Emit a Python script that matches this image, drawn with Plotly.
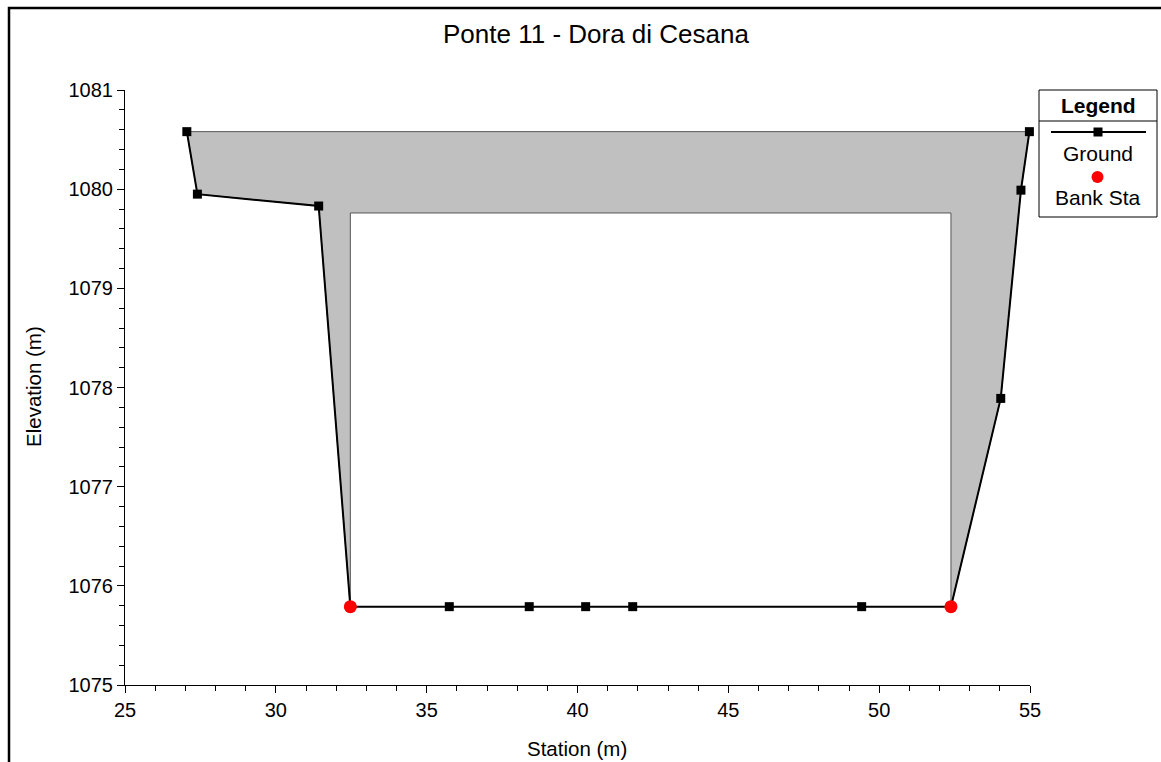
import plotly.graph_objects as go

# ---- data ----
ground_sta = [27.05, 27.40, 31.42, 32.47, 35.75, 38.40, 40.27, 41.83, 49.42, 52.38, 54.03, 54.70, 54.98]
ground_elev = [1080.58, 1079.95, 1079.83, 1075.79, 1075.79, 1075.79, 1075.79, 1075.79, 1075.79, 1075.79, 1077.89, 1079.99, 1080.58]
bank_sta = [32.47, 52.38]
bank_elev = [1075.79, 1075.79]
deck_high_chord = 1080.58
deck_low_chord = 1079.76
title = "Ponte 11 - Dora di Cesana"
x_title = "Station (m)"
y_title = "Elevation (m)"

FONT = "Liberation Sans, Arial, sans-serif"

# bridge deck polygon: top chord, down the left ground, around the opening, up the right ground
left_idx = [i for i, s in enumerate(ground_sta) if s <= bank_sta[0]]
right_idx = [i for i, s in enumerate(ground_sta) if s >= bank_sta[1]]
poly_x = [ground_sta[i] for i in left_idx]
poly_y = [ground_elev[i] for i in left_idx]
poly_x += [bank_sta[0], bank_sta[1]]
poly_y += [deck_low_chord, deck_low_chord]
poly_x += [ground_sta[i] for i in right_idx]
poly_y += [ground_elev[i] for i in right_idx]
poly_x += [ground_sta[left_idx[0]]]
poly_y += [deck_high_chord]

fig = go.Figure()
fig.add_trace(go.Scatter(
    x=poly_x, y=poly_y, mode="lines", fill="toself",
    fillcolor="#c0c0c0", line=dict(color="#555555", width=1),
    hoverinfo="skip", showlegend=False))
fig.add_trace(go.Scatter(
    x=ground_sta, y=ground_elev, mode="lines+markers", name="Ground",
    line=dict(color="black", width=2), cliponaxis=False,
    marker=dict(symbol="square", size=9, color="black"), showlegend=False))
fig.add_trace(go.Scatter(
    x=bank_sta, y=bank_elev, mode="markers", name="Bank Sta", cliponaxis=False,
    marker=dict(symbol="circle", size=13, color="#ff0000"), showlegend=False))

W, H = 1161, 762
L, R, T, B = 125, 131, 90, 77


def fx(p):
    return (p - L) / (W - L - R)


def fy(p):
    return (H - B - p) / (H - T - B)


shapes = [
    # outer frame
    dict(type="rect", xref="paper", yref="paper",
         x0=fx(9), x1=fx(1200), y0=fy(800), y1=fy(8),
         line=dict(color="black", width=2.5), fillcolor="rgba(0,0,0,0)"),
    # legend box
    dict(type="rect", xref="paper", yref="paper",
         x0=fx(1039), x1=fx(1157), y0=fy(217), y1=fy(90),
         line=dict(color="black", width=1), fillcolor="white"),
    dict(type="line", xref="paper", yref="paper",
         x0=fx(1039), x1=fx(1157), y0=fy(121), y1=fy(121),
         line=dict(color="black", width=1)),
    dict(type="line", xref="paper", yref="paper",
         x0=fx(1051), x1=fx(1146), y0=fy(132), y1=fy(132),
         line=dict(color="black", width=2)),
    dict(type="rect", xref="paper", yref="paper",
         x0=fx(1093.5), x1=fx(1102.5), y0=fy(136.5), y1=fy(127.5),
         line=dict(color="black", width=0), fillcolor="black"),
    dict(type="circle", xref="paper", yref="paper",
         x0=fx(1091.5), x1=fx(1103.5), y0=fy(183), y1=fy(171),
         line=dict(color="#ff0000", width=0), fillcolor="#ff0000"),
]

annotations = [
    dict(text="<b>Legend</b>", xref="paper", yref="paper", x=fx(1098), y=fy(105),
         showarrow=False, font=dict(family=FONT, size=21, color="black"),
         xanchor="center", yanchor="middle"),
    dict(text="Ground", xref="paper", yref="paper", x=fx(1098), y=fy(154),
         showarrow=False, font=dict(family=FONT, size=21, color="black"),
         xanchor="center", yanchor="middle"),
    dict(text="Bank Sta", xref="paper", yref="paper", x=fx(1098), y=fy(197),
         showarrow=False, font=dict(family=FONT, size=21, color="black"),
         xanchor="center", yanchor="middle"),
    dict(text=title, xref="paper", yref="paper", x=fx(596), y=fy(34),
         showarrow=False, font=dict(family=FONT, size=26, color="black"),
         xanchor="center", yanchor="middle"),
    dict(text=x_title, xref="paper", yref="paper", x=fx(577), y=fy(748),
         showarrow=False, font=dict(family=FONT, size=20.5, color="black"),
         xanchor="center", yanchor="middle"),
    dict(text=y_title, xref="paper", yref="paper", x=fx(33), y=fy(387),
         showarrow=False, textangle=-90, font=dict(family=FONT, size=20.5, color="black"),
         xanchor="center", yanchor="middle"),
]

fig.update_layout(
    width=W, height=H,
    margin=dict(l=L, r=R, t=T, b=B),
    paper_bgcolor="white", plot_bgcolor="white",
    font=dict(family=FONT, size=18, color="black"),
    shapes=shapes, annotations=annotations,
    showlegend=False,
)
fig.update_xaxes(
    range=[25, 55], tickmode="linear", tick0=25, dtick=5,
    ticks="outside", ticklen=7, tickwidth=1, tickcolor="black",
    showline=True, linecolor="black", linewidth=1, showgrid=False, zeroline=False,
    tickfont=dict(family=FONT, size=20),
    minor=dict(dtick=1, ticks="outside", ticklen=5, tickcolor="black", showgrid=False),
)
fig.update_yaxes(
    range=[1075, 1081], tickmode="linear", tick0=1075, dtick=1,
    ticks="outside", ticklen=7, tickwidth=1, tickcolor="black",
    showline=True, linecolor="black", linewidth=1, showgrid=False, zeroline=False,
    tickfont=dict(family=FONT, size=20), tickformat="d",
    minor=dict(dtick=0.2, ticks="outside", ticklen=5, tickcolor="black", showgrid=False),
)

fig.write_html("out.html")
